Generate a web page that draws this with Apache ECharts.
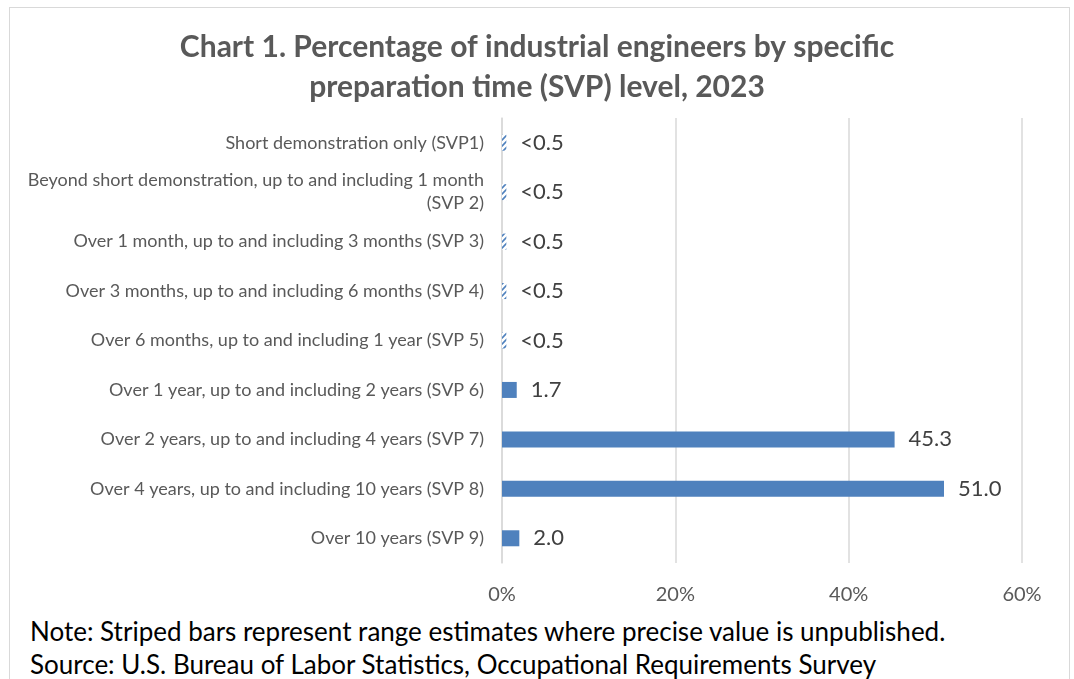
<!DOCTYPE html>
<html>
<head>
	<meta charset="utf-8">
	<script src="https://cdn.jsdelivr.net/npm/echarts@6/dist/echarts.min.js"></script>
	<style>
		* { margin: 0; padding: 0; }
		html, body { width: 100%; height: 100%; background: #fff; }
		#frame {
			position: absolute;
			left: 9px; top: 7px;
			width: 1061px; height: 700px;
			border: 1px solid #d9d9d9;
			box-sizing: border-box;
		}
		#chart { position: absolute; left: 0; top: 0; width: 1074px; height: 610px; }
		.note {
			position: absolute;
			left: 30px;
			font-family: Lato, "Open Sans", sans-serif;
			font-size: 26px;
			color: #000;
			white-space: nowrap;
		}
	</style>
</head>
<body>
	<div id="frame"></div>
	<div id="chart"></div>
	<div class="note" style="top:615px">Note: Striped bars represent range estimates where precise value is unpublished.</div>
	<div class="note" style="top:648px">Source: U.S. Bureau of Labor Statistics, Occupational Requirements Survey</div>
	<script>
	var categories = [
		'Short demonstration only (SVP1)',
		'Beyond short demonstration, up to and including 1 month\n(SVP 2)',
		'Over 1 month, up to and including 3 months (SVP 3)',
		'Over 3 months, up to and including 6 months (SVP 4)',
		'Over 6 months, up to and including 1 year (SVP 5)',
		'Over 1 year, up to and including 2 years (SVP 6)',
		'Over 2 years, up to and including 4 years (SVP 7)',
		'Over 4 years, up to and including 10 years (SVP 8)',
		'Over 10 years (SVP 9)'
	];
	var values = [0.5, 0.5, 0.5, 0.5, 0.5, 1.7, 45.3, 51.0, 2.0];
	// range estimates (drawn striped, labelled "<0.5")
	var isRange = [true, true, true, true, true, false, false, false, false];
	var xTicks = [0, 20, 40, 60];

	var blue = '#4f81bd';

	// diagonal stripe pattern
	var pc = document.createElement('canvas');
	pc.width = 6; pc.height = 6;
	var ctx = pc.getContext('2d');
	ctx.fillStyle = '#fff';
	ctx.fillRect(0, 0, 6, 6);
	ctx.strokeStyle = blue;
	ctx.lineWidth = 1.6;
	ctx.beginPath();
	ctx.moveTo(0, 6); ctx.lineTo(6, 0);
	ctx.moveTo(-3, 3); ctx.lineTo(3, -3);
	ctx.moveTo(3, 9); ctx.lineTo(9, 3);
	ctx.stroke();

	var seriesData = values.map(function (v, i) {
		return {
			value: v,
			itemStyle: { color: isRange[i] ? { image: pc, repeat: 'repeat' } : blue }
		};
	});

	var chart = echarts.init(document.getElementById('chart'));
	chart.setOption({
		animation: false,
		title: {
			text: 'Chart 1. Percentage of industrial engineers by specific\npreparation time (SVP) level, 2023',
			left: 'center',
			top: 22,
			textStyle: {
				fontFamily: 'Lato, "Open Sans", sans-serif',
				fontSize: 30,
				fontWeight: 'bold',
				color: '#595959',
				lineHeight: 40
			}
		},
		grid: { left: 502, right: 52, top: 118, bottom: 47 },
		xAxis: {
			type: 'value',
			min: 0, max: 60, interval: 20,
			axisLine: { show: false },
			axisTick: { show: false },
			splitLine: { lineStyle: { color: '#d9d9d9', width: 1.5 } },
			axisLabel: {
				formatter: function (v) { return xTicks.indexOf(v) >= 0 ? v + '%' : ''; },
				margin: 22,
				fontFamily: 'Lato, "Open Sans", sans-serif',
				fontSize: 20,
				color: '#595959'
			}
		},
		yAxis: {
			type: 'category',
			inverse: true,
			data: categories,
			axisLine: { lineStyle: { color: '#d9d9d9', width: 1.5 } },
			axisTick: { show: false },
			axisLabel: {
				margin: 18,
				align: 'right',
				fontFamily: 'Lato, "Open Sans", sans-serif',
				fontSize: 18,
				lineHeight: 23,
				color: '#595959'
			}
		},
		series: [{
			type: 'bar',
			data: seriesData,
			barWidth: 16,
			label: {
				show: true,
				position: 'right',
				distance: 14,
				fontFamily: 'Lato, "Open Sans", sans-serif',
				fontSize: 22,
				color: '#404040',
				formatter: function (p) {
					return isRange[p.dataIndex] ? '<0.5' : p.value.toFixed(1);
				}
			}
		}]
	});
	</script>
</body>
</html>
